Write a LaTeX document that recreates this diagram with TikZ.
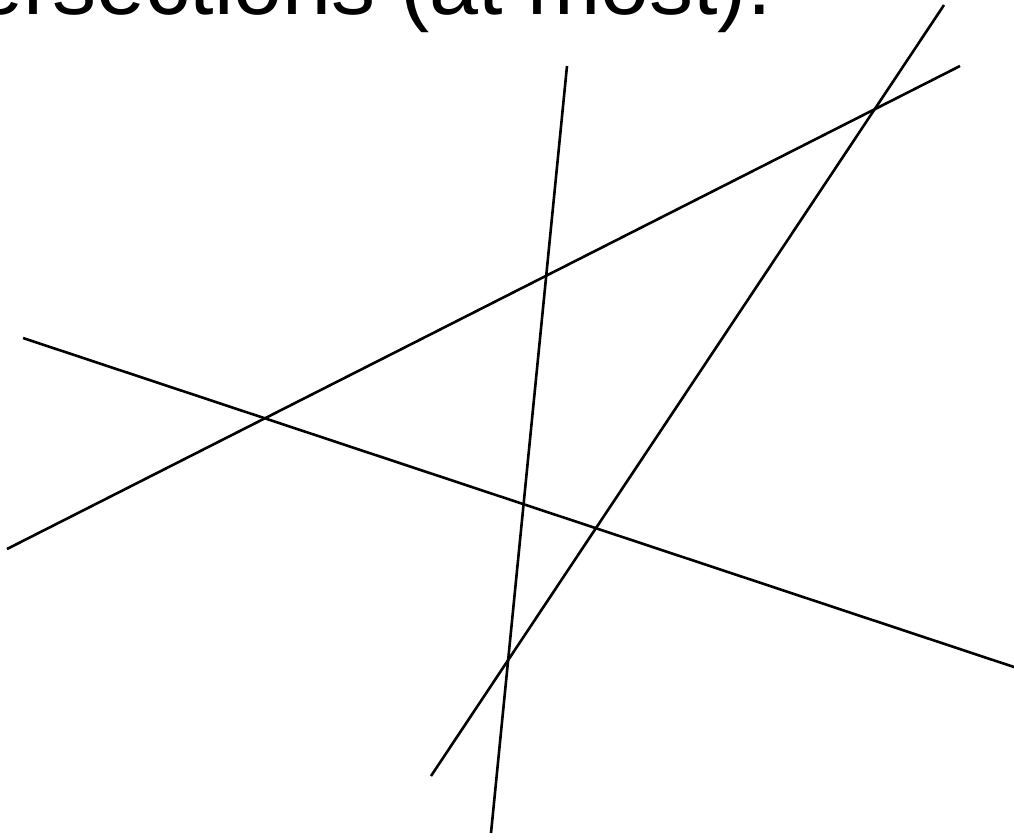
\documentclass[tikz,border=0pt]{standalone}
\usepackage{fontspec}
\setmainfont{Liberation Sans}
\tikzset{
  ln/.style={line width=2.6pt, line cap=butt},
  title/.style={font=\fontsize{88}{100}\selectfont, anchor=base east, inner sep=0pt}
}
\begin{document}
\begin{tikzpicture}[x=1pt,y=-1pt]
\useasboundingbox (0,0) rectangle (1014,839);
\clip (0,0) rectangle (1014,839);
\node[title] (t) at (772,14) {intersections (at most).};
\coordinate (a1) at (23,338);
\coordinate (a2) at (1020,669);
\coordinate (b1) at (7,549);
\coordinate (b2) at (960,66);
\coordinate (c1) at (567,66);
\coordinate (c2) at (491,833);
\coordinate (d1) at (944,5);
\coordinate (d2) at (431,776);
\draw[ln] (a1) -- (a2);
\draw[ln] (b1) -- (b2);
\draw[ln] (c1) -- (c2);
\draw[ln] (d1) -- (d2);
\end{tikzpicture}
\end{document}
